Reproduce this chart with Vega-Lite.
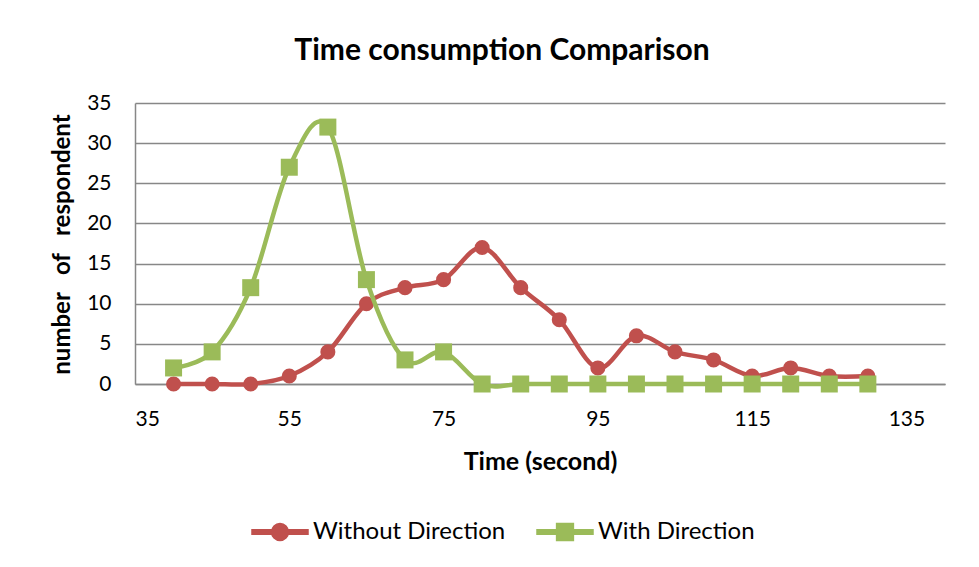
{
  "$schema": "https://vega.github.io/schema/vega-lite/v6.json",
  "width": 810,
  "height": 281,
  "autosize": {"type": "none"},
  "padding": {"left": 135, "top": 103, "right": 34, "bottom": 183},
  "background": "white",
  "title": {
    "text": "Time consumption Comparison",
    "fontSize": 30,
    "font": "Lato",
    "fontWeight": "bold",
    "color": "#000000",
    "anchor": "middle",
    "dx": -38,
    "dy": 38,
    "baseline": "alphabetic",
    "offset": 40
  },
  "data": {
    "values": [
      {"series": "Without Direction", "time": 40, "count": 0},
      {"series": "Without Direction", "time": 45, "count": 0},
      {"series": "Without Direction", "time": 50, "count": 0},
      {"series": "Without Direction", "time": 55, "count": 1},
      {"series": "Without Direction", "time": 60, "count": 4},
      {"series": "Without Direction", "time": 65, "count": 10},
      {"series": "Without Direction", "time": 70, "count": 12},
      {"series": "Without Direction", "time": 75, "count": 13},
      {"series": "Without Direction", "time": 80, "count": 17},
      {"series": "Without Direction", "time": 85, "count": 12},
      {"series": "Without Direction", "time": 90, "count": 8},
      {"series": "Without Direction", "time": 95, "count": 2},
      {"series": "Without Direction", "time": 100, "count": 6},
      {"series": "Without Direction", "time": 105, "count": 4},
      {"series": "Without Direction", "time": 110, "count": 3},
      {"series": "Without Direction", "time": 115, "count": 1},
      {"series": "Without Direction", "time": 120, "count": 2},
      {"series": "Without Direction", "time": 125, "count": 1},
      {"series": "Without Direction", "time": 130, "count": 1},
      {"series": "With Direction", "time": 40, "count": 2},
      {"series": "With Direction", "time": 45, "count": 4},
      {"series": "With Direction", "time": 50, "count": 12},
      {"series": "With Direction", "time": 55, "count": 27},
      {"series": "With Direction", "time": 60, "count": 32},
      {"series": "With Direction", "time": 65, "count": 13},
      {"series": "With Direction", "time": 70, "count": 3},
      {"series": "With Direction", "time": 75, "count": 4},
      {"series": "With Direction", "time": 80, "count": 0},
      {"series": "With Direction", "time": 85, "count": 0},
      {"series": "With Direction", "time": 90, "count": 0},
      {"series": "With Direction", "time": 95, "count": 0},
      {"series": "With Direction", "time": 100, "count": 0},
      {"series": "With Direction", "time": 105, "count": 0},
      {"series": "With Direction", "time": 110, "count": 0},
      {"series": "With Direction", "time": 115, "count": 0},
      {"series": "With Direction", "time": 120, "count": 0},
      {"series": "With Direction", "time": 125, "count": 0},
      {"series": "With Direction", "time": 130, "count": 0}
    ]
  },
  "encoding": {
    "x": {
      "field": "time",
      "type": "quantitative",
      "scale": {"domain": [35, 140], "nice": false, "zero": false},
      "axis": {
        "values": [35, 55, 75, 95, 115, 135],
        "grid": false,
        "title": "Time (second)",
        "labelPadding": 24,
        "titleX": 405,
        "titleY": 77,
        "titleBaseline": "middle",
        "titleAlign": "center",
        "titleFontSize": 25
      }
    },
    "y": {
      "field": "count",
      "type": "quantitative",
      "scale": {"domain": [0, 35], "nice": false},
      "axis": {
        "values": [0, 5, 10, 15, 20, 25, 30, 35],
        "title": "number\u00a0\u00a0\u00a0of\u00a0\u00a0\u00a0respondent",
        "labelPadding": 24,
        "titleAngle": -90,
        "titleX": -73,
        "titleY": 141,
        "titleBaseline": "middle",
        "titleAlign": "center",
        "titleFontSize": 24
      }
    },
    "color": {
      "field": "series",
      "type": "nominal",
      "scale": {"domain": ["Without Direction", "With Direction"], "range": ["#C0504D", "#9BBB59"]},
      "legend": {
        "title": null,
        "orient": "none",
        "direction": "horizontal",
        "legendX": 116,
        "legendY": 400
      }
    }
  },
  "layer": [
    {
      "transform": [{"filter": "datum.series === 'Without Direction'"}],
      "mark": {"type": "line", "interpolate": "cardinal", "strokeWidth": 4.5}
    },
    {
      "transform": [{"filter": "datum.series === 'Without Direction'"}],
      "mark": {"type": "point", "shape": "circle", "filled": true, "opacity": 1, "size": 227}
    },
    {
      "transform": [{"filter": "datum.series === 'With Direction'"}],
      "mark": {"type": "line", "interpolate": "cardinal", "strokeWidth": 4.5}
    },
    {
      "transform": [{"filter": "datum.series === 'With Direction'"}],
      "mark": {"type": "point", "shape": "square", "filled": true, "opacity": 1, "size": 289}
    },
    {
      "mark": {"type": "point", "filled": true, "opacity": 0},
      "encoding": {
        "shape": {
          "field": "series",
          "type": "nominal",
          "scale": {
            "domain": ["Without Direction", "With Direction"],
            "range": [
              "M-1,-0.08 H-0.25 V0.08 H-1 Z M0.25,-0.08 H1 V0.08 H0.25 Z M-0.3,0 A0.3,0.3 0 1,1 0.3,0 A0.3,0.3 0 1,1 -0.3,0 Z",
              "M-1,-0.08 H-0.3 V0.08 H-1 Z M0.3,-0.08 H1 V0.08 H0.3 Z M-0.3,-0.3 H0.3 V0.3 H-0.3 Z"
            ]
          },
          "legend": {
            "title": null,
            "orient": "none",
            "direction": "horizontal",
            "legendX": 116,
            "legendY": 400
          }
        }
      }
    }
  ],
  "config": {
    "font": "Lato",
    "view": {"stroke": null},
    "legend": {
      "symbolSize": 3136,
      "labelFontSize": 24,
      "labelFont": "Lato",
      "labelColor": "#000000",
      "labelOffset": 4,
      "labelLimit": 400,
      "columnPadding": 28,
      "symbolOpacity": 1
    },
    "axis": {
      "gridColor": "#878787",
      "gridWidth": 1.5,
      "gridOpacity": 1,
      "domainColor": "#878787",
      "domainWidth": 1.5,
      "ticks": false,
      "labelFontSize": 21,
      "labelColor": "#000000",
      "labelFont": "Lato",
      "titleColor": "#000000",
      "titleFont": "Lato",
      "titleFontWeight": "bold"
    }
  }
}
